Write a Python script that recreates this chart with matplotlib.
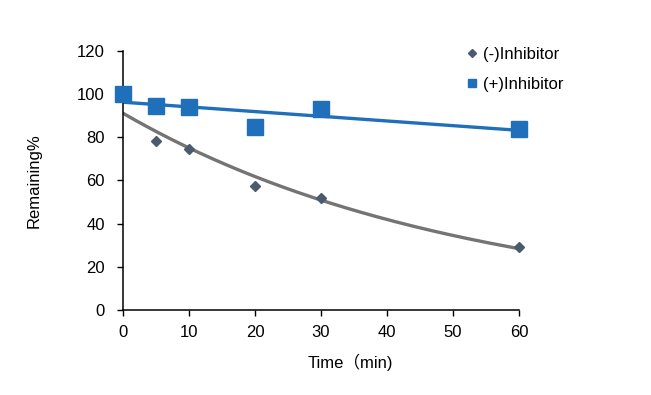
import numpy as np
import matplotlib
matplotlib.use("Agg")
import matplotlib.pyplot as plt

plt.rcParams['font.family'] = ['Liberation Sans', 'Noto Sans CJK SC', 'DejaVu Sans']

# data
time_min = [0, 5, 10, 20, 30, 60]
no_inhibitor = [100, 78.5, 74.5, 57.5, 52, 29]
with_inhibitor = [100, 94.5, 94, 85, 93, 84]

x_ticks = [0, 10, 20, 30, 40, 50, 60]
y_ticks = [0, 20, 40, 60, 80, 100, 120]

blue = '#1F6FBA'
gray_line = '#747474'
diamond = '#4B5B6F'

fig = plt.figure(figsize=(6.51, 3.95), dpi=100)
ax = fig.add_axes([123 / 651, 1 - 310 / 395, 396 / 651, 259 / 395])

t = np.array(time_min, dtype=float)
xs = np.linspace(0, 60, 200)

# exponential trendline for (-)Inhibitor
k, lna = np.polyfit(t, np.log(no_inhibitor), 1)
ax.plot(xs, np.exp(lna) * np.exp(k * xs), color=gray_line, lw=2.4, zorder=2)

# linear trendline for (+)Inhibitor
m, b = np.polyfit(t, with_inhibitor, 1)
ax.plot(xs, m * xs + b, color=blue, lw=2.4, zorder=2)

ax.plot(time_min, no_inhibitor, 'D', color=diamond, ms=5, ls='none',
        label='(-)Inhibitor', zorder=3, clip_on=False)
ax.plot(time_min, with_inhibitor, 's', color=blue, ms=11, ls='none',
        label='(+)Inhibitor', zorder=4, clip_on=False)

ax.set_xlim(0, 60)
ax.set_ylim(0, 120)
ax.set_xticks(x_ticks)
ax.set_yticks(y_ticks)
ax.spines['top'].set_visible(False)
ax.spines['right'].set_visible(False)
ax.tick_params(direction='out', length=4, width=1, labelsize=12, colors='black')
ax.tick_params(axis='x', pad=7)
ax.tick_params(axis='y', pad=9)
for s in ('left', 'bottom'):
    ax.spines[s].set_linewidth(1.1)

ax.set_xlabel('Time（min)', fontsize=12)
ax.xaxis.set_label_coords(0.573, -0.17)
ax.set_ylabel('Remaining%', fontsize=12)
ax.yaxis.set_label_coords(-0.205, 0.5)

leg = ax.legend(loc='upper left', bbox_to_anchor=(0.83, 1.075), frameon=False,
                fontsize=12, handlelength=0.6,
                handletextpad=0.35, labelspacing=0.9)
leg.legend_handles[0].set_markersize(4.5)
leg.legend_handles[1].set_markersize(6)

fig.savefig('out.png', dpi=100)
